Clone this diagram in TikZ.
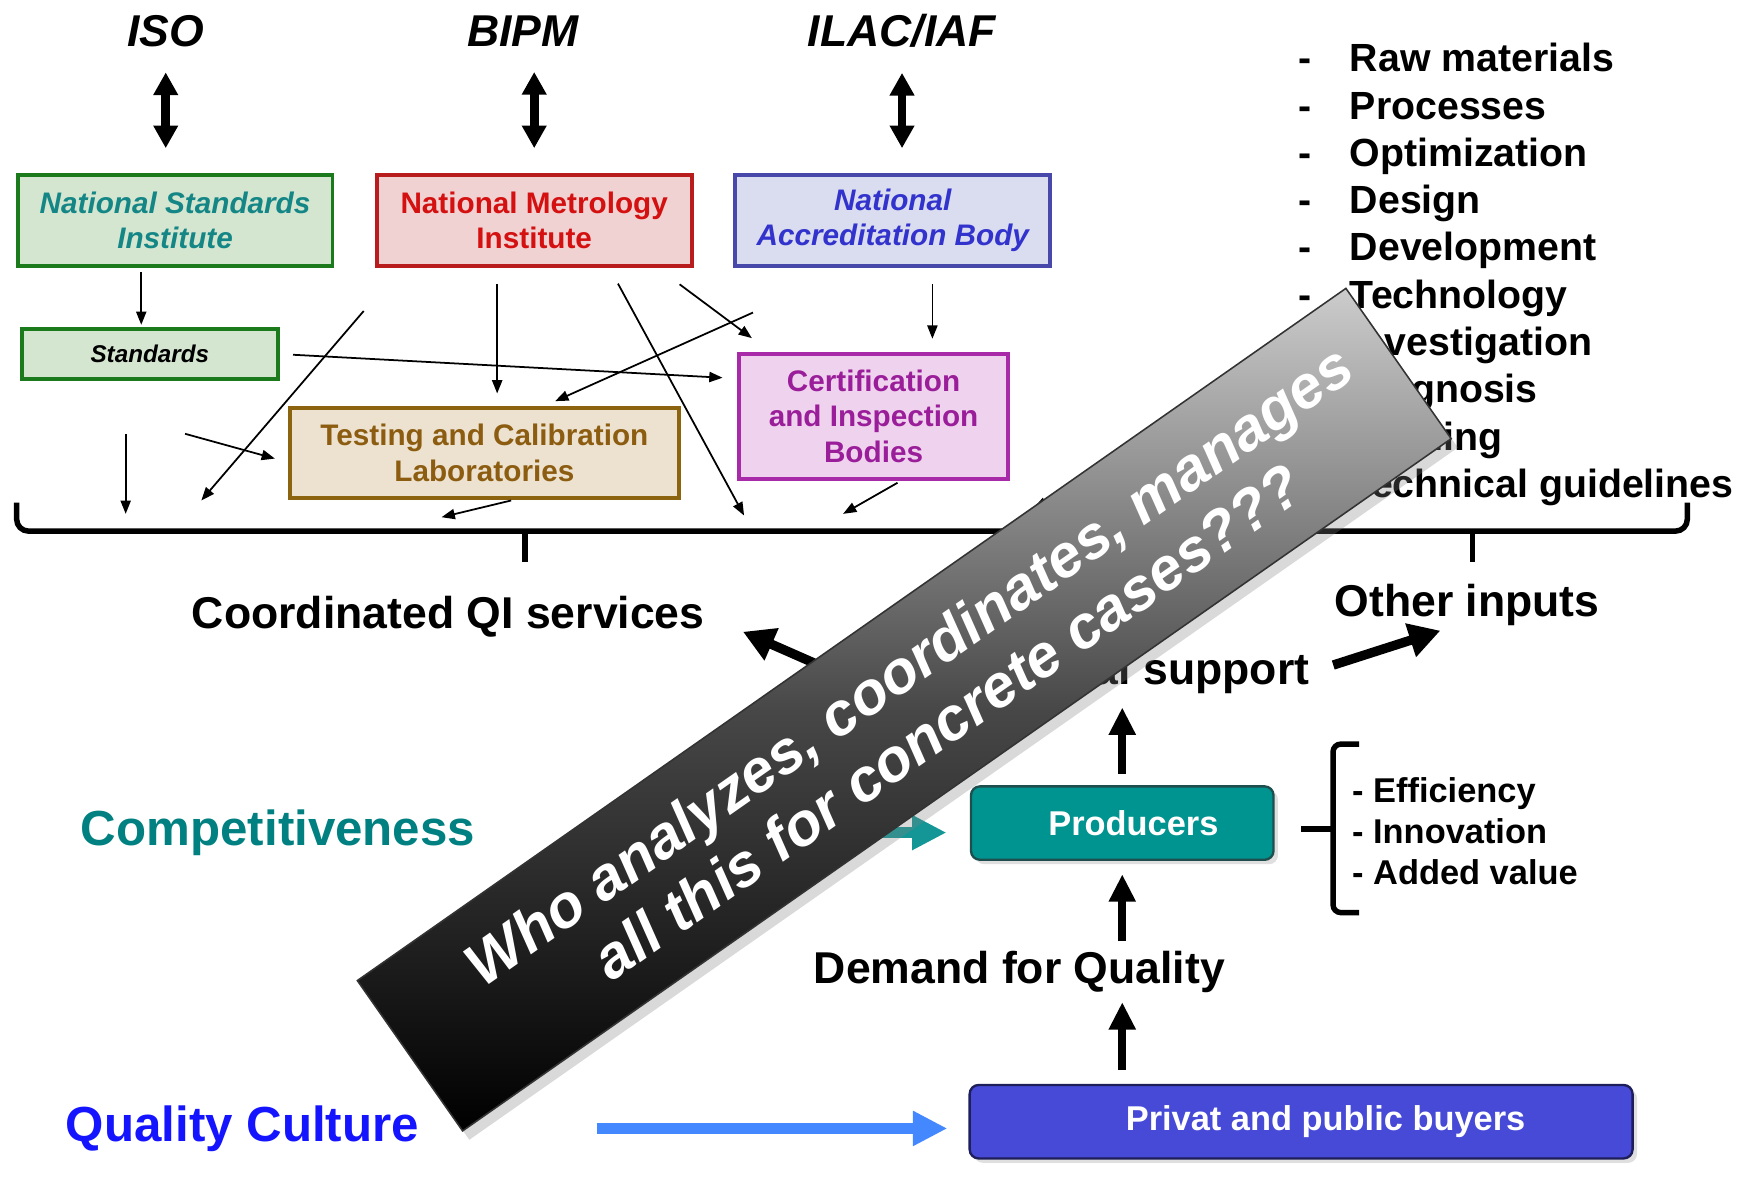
\documentclass[tikz,border=0pt]{standalone}
\usepackage{fontspec}
\setmainfont{Liberation Sans}
\usetikzlibrary{positioning, arrows.meta, shadows}

\definecolor{nsiGreen}{RGB}{27,122,27}
\definecolor{nsiFill}{RGB}{212,230,208}
\definecolor{nsiText}{RGB}{20,134,134}
\definecolor{nmiRed}{RGB}{184,28,28}
\definecolor{nmiFill}{RGB}{240,210,210}
\definecolor{nmiText}{RGB}{212,16,16}
\definecolor{nabBlue}{RGB}{72,72,170}
\definecolor{nabFill}{RGB}{218,220,239}
\definecolor{nabText}{RGB}{50,50,204}
\definecolor{labBrown}{RGB}{140,100,16}
\definecolor{labFill}{RGB}{236,226,207}
\definecolor{labText}{RGB}{140,92,16}
\definecolor{certPurple}{RGB}{168,42,168}
\definecolor{certFill}{RGB}{239,211,238}
\definecolor{certText}{RGB}{154,30,154}
\definecolor{prodTeal}{RGB}{0,148,144}
\definecolor{prodEdge}{RGB}{30,78,78}
\definecolor{compTeal}{RGB}{0,128,128}
\definecolor{arrowTeal}{RGB}{20,150,150}
\definecolor{buyerBlue}{RGB}{70,74,214}
\definecolor{buyerEdge}{RGB}{30,30,90}
\definecolor{cultureBlue}{RGB}{20,20,255}
\definecolor{flowBlue}{RGB}{68,136,255}

\begin{document}
\begin{tikzpicture}[
    inst/.style={rectangle, line width=1pt, inner sep=0pt, align=center,
                 minimum width=2.83cm, minimum height=0.82cm,
                 font=\fontsize{7.6}{9.1}\selectfont\bfseries},
    insti/.style={inst, font=\fontsize{7.6}{9.1}\selectfont\bfseries\itshape},
    txt/.style={inner sep=0pt, anchor=base, font=\fontsize{11.4}{13.7}\selectfont\bfseries},
    org/.style={txt, font=\fontsize{11.4}{13.7}\selectfont\bfseries\itshape},
    goal/.style={txt, font=\fontsize{12.6}{15}\selectfont\bfseries},
    actor/.style={rectangle, rounded corners=0.08cm, line width=0.6pt, inner sep=0pt,
                  text=white, minimum height=0.66cm, font=\fontsize{8.8}{10.5}\selectfont\bfseries,
                  drop shadow={opacity=0.25, shadow xshift=0.4mm, shadow yshift=-0.4mm}},
    link/.style={-{Triangle[length=3.4pt, width=2.6pt]}, line width=0.45pt},
    dbl/.style={{Triangle[length=5.8pt, width=6pt]}-{Triangle[length=5.8pt, width=6pt]},
                line width=2.2pt, shorten <=2.2mm, shorten >=2.2mm},
    rise/.style={-{Triangle[length=7pt, width=6.5pt]}, line width=2pt},
    push/.style={-{Triangle[length=8pt, width=8.5pt]}, line width=2.4pt},
    fat/.style={-{Triangle[length=8.8pt, width=8.4pt]}, line width=3pt},
    brace/.style={line width=1.4pt, rounded corners=3pt}
]

    \useasboundingbox (0,0) rectangle (15.68,-10.59);

    % International bodies
    \node[org] (iso) at (1.49,-0.42) {ISO};
    \node[org] (bipm) at (4.70,-0.42) {BIPM};
    \node[org] (ilac) at (8.11,-0.42) {ILAC/IAF};

    % National institutions
    \node[insti, draw=nsiGreen, fill=nsiFill, text=nsiText] (nsi) at (1.574,-1.98) {National Standards\\Institute};
    \node[inst, draw=nmiRed, fill=nmiFill, text=nmiText] (nmi) at (4.803,-1.98) {National Metrology\\Institute};
    \node[insti, draw=nabBlue, fill=nabFill, text=nabText] (nab) at (8.027,-1.98) {National\\Accreditation Body};

    \draw[dbl] (iso.south) -- (iso.south |- nsi.north);
    \draw[dbl] (nmi.north |- bipm.south) -- (nmi.north);
    \draw[dbl] (ilac.south) -- (ilac.south |- nab.north);

    % Standards and service providers
    \node[inst, draw=nsiGreen, fill=nsiFill, minimum width=2.3cm, minimum height=0.45cm,
          font=\fontsize{6.2}{7.4}\selectfont\bfseries\itshape] (std) at (1.347,-3.183) {Standards};
    \node[inst, draw=labBrown, fill=labFill, text=labText, minimum width=3.5cm,
          minimum height=0.81cm] (tcl) at (4.355,-4.07) {Testing and Calibration\\Laboratories};
    \node[inst, draw=certPurple, fill=certFill, text=certText, minimum width=2.42cm,
          minimum height=1.12cm] (cib) at (7.854,-3.743) {Certification\\and Inspection\\Bodies};

    % Free ends of the thin links
    \coordinate (l5s) at (6.77,-2.81);
    \coordinate (l6s) at (6.11,-2.556);
    \coordinate (l6e) at (6.76,-3.04);
    \coordinate (l7s) at (5.556,-2.55);
    \coordinate (l7e) at (6.69,-4.635);
    \coordinate (l8s) at (3.27,-2.796);
    \coordinate (l8e) at (1.81,-4.50);
    \coordinate (l9s) at (1.664,-3.90);
    \coordinate (l10s) at (1.13,-3.90);
    \coordinate (l10e) at (1.13,-4.62);
    \coordinate (l11e) at (3.97,-4.65);
    \coordinate (l12e) at (7.58,-4.62);
    \coordinate (l13s) at (10.00,-4.22);
    \coordinate (l13e) at (9.29,-4.57);

    % Thin links
    \draw[link, shorten <=0.4mm, shorten >=0.2mm] ([xshift=-3.04mm]nsi.south) -- ([xshift=-3.04mm]nsi.south |- std.north);
    \draw[link, shorten <=1.5mm, shorten >=1.1mm] ([xshift=-3.33mm]nmi.south) -- ([xshift=-3.33mm]nmi.south |- tcl.north);
    \draw[link, shorten <=1.5mm, shorten >=1.2mm] ([xshift=3.56mm]nab.south) -- ([xshift=3.56mm]nab.south |- cib.north);
    \draw[link, shorten <=1.2mm, shorten >=1.3mm] (std.east) -- ([yshift=3.4mm]cib.west);
    \draw[link, shorten >=1mm] (l5s) -- ([xshift=5.45mm]tcl.north);
    \draw[link] (l6s) -- (l6e);
    \draw[link] (l7s) -- (l7e);
    \draw[link] (l8s) -- (l8e);
    \draw[link, shorten >=1.2mm] (l9s) -- ([yshift=-0.85mm]tcl.west);
    \draw[link] (l10s) -- (l10e);
    \draw[link, shorten <=0.3mm] ([xshift=2.7mm]tcl.south) -- (l11e);
    \draw[link, shorten <=0.4mm] ([xshift=2.5mm]cib.south) -- (l12e);
    \draw[link] (l13s) -- (l13e);

    % Factors list
    \node[anchor=base west, inner sep=0pt, font=\fontsize{10.05}{12.1}\selectfont\bfseries] (factors) at (11.67,-0.645) {%
        \begin{tabular}[t]{@{}l@{\hspace{0.342cm}}l@{}}
        - & Raw materials\\
        - & Processes\\
        - & Optimization\\
        - & Design\\
        - & Development\\
        - & Technology\\
        - & Investigation\\
        - & Diagnosis\\
        - & Training\\
        - & Technical guidelines
        \end{tabular}};

    % Collecting brace
    \draw[brace] (0.15,-4.52) |- (15.17,-4.775) -- (15.17,-4.52);
    \draw[brace] (4.72,-4.775) -- (4.72,-5.05);
    \draw[brace] (13.24,-4.775) -- (13.24,-5.05);

    % Outcomes
    \node[txt] (coord) at (4.03,-5.65) {Coordinated QI services};
    \node[txt] (other) at (13.19,-5.54) {Other inputs};
    \node[txt] (support) at (10.06,-6.15) {Technical support};
    \node[txt] (demand) at (9.165,-8.84) {Demand for Quality};

    \coordinate (qiTail) at (7.59,-6.08);
    \coordinate (qiTip) at (6.68,-5.68);
    \coordinate (otherTip) at (12.95,-5.67);
    \draw[push] (qiTail) -- (qiTip);
    \draw[push, shorten <=2.2mm] (support.east) -- (otherTip);

    % Actors
    \node[actor, fill=prodTeal, draw=prodEdge, minimum width=2.72cm] (prod) at (10.09,-7.40) {\hspace*{0.2cm}Producers};
    \node[actor, fill=buyerBlue, draw=buyerEdge, minimum width=5.96cm] (buyers) at (11.698,-10.085) {\hspace*{0.44cm}Privat and public buyers};

    \draw[rise, shorten <=1mm, shorten >=1.2mm] (prod.north) -- (prod.north |- support.south);
    \draw[rise, shorten <=0.8mm, shorten >=1.2mm] (prod.south |- demand.north) -- (prod.south);
    \draw[rise, shorten <=1.2mm, shorten >=0.8mm] (prod.south |- buyers.north) -- (prod.south |- demand.south);

    % Benefits
    \draw[brace, rounded corners=2pt] (12.22,-6.69) -| (11.985,-8.205) -- (12.22,-8.205);
    \draw[brace] (11.985,-7.455) -- (11.70,-7.455);
    \node[anchor=base west, inner sep=0pt, font=\fontsize{8.8}{10.46}\selectfont\bfseries] (gains) at (12.15,-7.215) {%
        \begin{tabular}[t]{@{}l@{}}
        - Efficiency\\
        - Innovation\\
        - Added value
        \end{tabular}};

    % Drivers
    \node[goal, text=compTeal] (comp) at (2.50,-7.60) {Competitiveness};
    \node[goal, text=cultureBlue] (culture) at (2.18,-10.26) {Quality Culture};
    \draw[fat, draw=arrowTeal, shorten <=1.08cm, shorten >=2.1mm] (comp.east) -- (comp.east -| prod.west);
    \draw[fat, draw=flowBlue, shorten <=1.59cm, shorten >=1.9mm] (culture.east) -- (culture.east -| buyers.west);

    % Question banner
    \node[rotate=35, minimum width=10.85cm, minimum height=1.65cm, inner sep=0pt,
          draw=black!80, line width=0.4pt, top color=black!20, bottom color=black,
          middle color=black!72, drop shadow={opacity=0.3, shadow xshift=0.6mm, shadow yshift=-0.8mm}]
          (who) at (8.13,-6.38) {};
    \node[rotate=35, inner sep=0pt, align=center, text=white,
          font=\fontsize{15.4}{17.6}\selectfont\bfseries\itshape]
          (whoText) at ([shift={(35:0.26)}]who.center) {Who analyzes, coordinates, manages\\all this for concrete cases???};

\end{tikzpicture}
\end{document}
